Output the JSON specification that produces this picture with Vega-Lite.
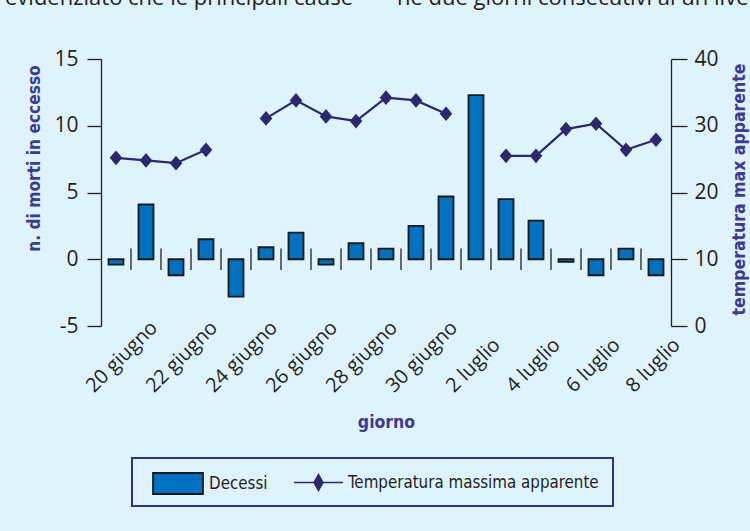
{
  "$schema": "https://vega.github.io/schema/vega-lite/v6.json",
  "autosize": {"type": "none"},
  "width": 570,
  "height": 267,
  "padding": {"left": 101, "top": 59, "right": 79, "bottom": 205},
  "background": "#dff3fc",
  "title": {
    "text": "evidenziato che le principali cause\u2003\u2003ne due giorni consecutivi ai un livel",
    "anchor": "start",
    "frame": "group",
    "dx": -96,
    "offset": 21,
    "baseline": "alphabetic",
    "font": "Open Sans",
    "fontSize": 22,
    "fontWeight": "normal",
    "color": "#231f20"
  },
  "data": {
    "values": [
      {"giorno": "20 giugno", "decessi": -0.4, "temp": 25.2, "tratto": 1},
      {"giorno": "21 giugno", "decessi": 4.1, "temp": 24.8, "tratto": 1},
      {"giorno": "22 giugno", "decessi": -1.2, "temp": 24.4, "tratto": 1},
      {"giorno": "23 giugno", "decessi": 1.5, "temp": 26.4, "tratto": 1},
      {"giorno": "24 giugno", "decessi": -2.8, "temp": null, "tratto": null},
      {"giorno": "25 giugno", "decessi": 0.9, "temp": 31.1, "tratto": 2},
      {"giorno": "26 giugno", "decessi": 2.0, "temp": 33.8, "tratto": 2},
      {"giorno": "27 giugno", "decessi": -0.4, "temp": 31.4, "tratto": 2},
      {"giorno": "28 giugno", "decessi": 1.2, "temp": 30.7, "tratto": 2},
      {"giorno": "29 giugno", "decessi": 0.8, "temp": 34.2, "tratto": 2},
      {"giorno": "30 giugno", "decessi": 2.5, "temp": 33.8, "tratto": 2},
      {"giorno": "1 luglio", "decessi": 4.7, "temp": 31.8, "tratto": 2},
      {"giorno": "2 luglio", "decessi": 12.3, "temp": null, "tratto": null},
      {"giorno": "3 luglio", "decessi": 4.5, "temp": 25.5, "tratto": 3},
      {"giorno": "4 luglio", "decessi": 2.9, "temp": 25.5, "tratto": 3},
      {"giorno": "5 luglio", "decessi": -0.2, "temp": 29.5, "tratto": 3},
      {"giorno": "6 luglio", "decessi": -1.2, "temp": 30.3, "tratto": 3},
      {"giorno": "7 luglio", "decessi": 0.8, "temp": 26.4, "tratto": 3},
      {"giorno": "8 luglio", "decessi": -1.2, "temp": 27.9, "tratto": 3}
    ]
  },
  "encoding": {
    "x": {
      "field": "giorno",
      "type": "ordinal",
      "sort": null,
      "scale": {"paddingInner": 0.5, "paddingOuter": 0.25},
      "axis": {
        "orient": "bottom",
        "values": ["20 giugno", "22 giugno", "24 giugno", "26 giugno", "28 giugno", "30 giugno", "2 luglio", "4 luglio", "6 luglio", "8 luglio"],
        "domain": false,
        "ticks": false,
        "tickSize": 0,
        "labelAngle": -45,
        "labelAlign": "left",
        "labelBaseline": "alphabetic",
        "labelPadding": 67,
        "labelOffset": -22,
        "labelOverlap": false,
        "labelBound": false,
        "labelFlush": false,
        "labelFont": "Open Sans",
        "labelFontSize": 20,
        "labelColor": "#231f20",
        "title": "giorno",
        "titleFont": "'DejaVu Sans Condensed', sans-serif",
        "titleFontSize": 17.5,
        "titleFontWeight": "bold",
        "titleColor": "#3b3a97",
        "titleBaseline": "alphabetic",
        "titleY": 101
      }
    }
  },
  "layer": [
    {
      "layer": [
        {
          "mark": {"type": "bar", "stroke": "#1a1a1a", "strokeWidth": 1.8},
          "encoding": {
            "y": {
              "field": "decessi",
              "type": "quantitative",
              "scale": {"domain": [-5, 15], "nice": false, "zero": false},
              "axis": {
                "orient": "left",
                "values": [-5, 0, 5, 10, 15],
                "labelExpr": "datum.value < 0 ? '-' + abs(datum.value) : datum.label",
                "grid": false,
                "tickSize": 14,
                "labelPadding": 9,
                "labelFont": "Open Sans",
                "labelFontSize": 21,
                "labelColor": "#231f20",
                "title": "n. di morti in eccesso",
                "titleFont": "'DejaVu Sans Condensed', sans-serif",
                "titleFontSize": 17.2,
                "titleFontWeight": "bold",
                "titleColor": "#3b3a97",
                "titleAngle": 270,
                "titleAlign": "center",
                "titleBaseline": "alphabetic",
                "titleX": -62,
                "titleY": 99
              }
            },
            "fill": {
              "datum": "Decessi",
              "type": "nominal",
              "scale": {"domain": ["Decessi"], "range": ["#0070c0"]},
              "legend": {
                "orient": "none",
                "legendX": 65.5,
                "legendY": 413,
                "title": null,
                "symbolType": "M-2.38,-1H2.38V1H-2.38Z",
                "symbolSize": 441,
                "symbolStrokeColor": "#1a1a1a",
                "symbolStrokeWidth": 1.8,
                "symbolOpacity": 1,
                "labelFont": "'DejaVu Sans Condensed', sans-serif",
                "labelFontSize": 16.8,
                "labelColor": "#231f20",
                "labelOffset": 19.5,
                "labelLimit": 400,
                "padding": 0
              }
            }
          }
        },
        {
          "mark": {"type": "rule", "color": "#231f20", "strokeWidth": 1.3},
          "encoding": {"y": {"datum": 0}}
        },
        {
          "transform": [{"filter": "datum.giorno !== '20 giugno'"}],
          "mark": {"type": "rule", "color": "#231f20", "strokeWidth": 1.3},
          "encoding": {
            "x": {"field": "giorno", "type": "ordinal", "sort": null, "bandPosition": -0.5},
            "y": {"datum": 0.8},
            "y2": {"datum": -0.8}
          }
        }
      ]
    },
    {
      "layer": [
        {
          "mark": {"type": "line", "strokeWidth": 2.2, "color": "#29296e"},
          "encoding": {
            "y": {
              "field": "temp",
              "type": "quantitative",
              "scale": {"domain": [0, 40], "nice": false},
              "axis": {
                "orient": "right",
                "values": [0, 10, 20, 30, 40],
                "grid": false,
                "tickSize": 16,
                "labelPadding": 7,
                "labelFont": "Open Sans",
                "labelFontSize": 21,
                "labelColor": "#231f20",
                "title": "temperatura max apparente",
                "titleFont": "'DejaVu Sans Condensed', sans-serif",
                "titleFontSize": 17.5,
                "titleFontWeight": "bold",
                "titleColor": "#3b3a97",
                "titleAngle": 270,
                "titleAlign": "center",
                "titleBaseline": "alphabetic",
                "titleX": 73,
                "titleY": 130
              }
            },
            "detail": {"field": "tratto", "type": "nominal"}
          }
        },
        {
          "mark": {"type": "point", "shape": "M0,-1.05L0.9,0L0,1.05L-0.9,0Z", "size": 196, "filled": true, "opacity": 1},
          "encoding": {
            "y": {"field": "temp", "type": "quantitative"},
            "color": {
              "datum": "Temperatura massima apparente",
              "type": "nominal",
              "scale": {"domain": ["Temperatura massima apparente"], "range": ["#29296e"]},
              "legend": {
                "orient": "none",
                "legendX": 31,
                "legendY": 399,
                "title": null,
                "symbolType": "M-2.33,-0.075H2.33V0.075H-2.33Z M0,-0.9L0.51,0L0,0.9L-0.51,0Z",
                "symbolSize": 441,
                "symbolStrokeWidth": 0,
                "symbolOpacity": 1,
                "symbolOffset": 162,
                "labelFont": "'DejaVu Sans Condensed', sans-serif",
                "labelFontSize": 16.8,
                "labelColor": "#231f20",
                "labelOffset": 19,
                "labelLimit": 400,
                "padding": 14,
                "strokeColor": "#2e3192"
              }
            }
          }
        }
      ]
    }
  ],
  "resolve": {"scale": {"y": "independent"}},
  "config": {
    "view": {"stroke": null},
    "legend": {"strokeWidth": 2},
    "axis": {
      "domainColor": "#231f20",
      "tickColor": "#231f20",
      "domainWidth": 1.3,
      "tickWidth": 1.3
    }
  }
}
